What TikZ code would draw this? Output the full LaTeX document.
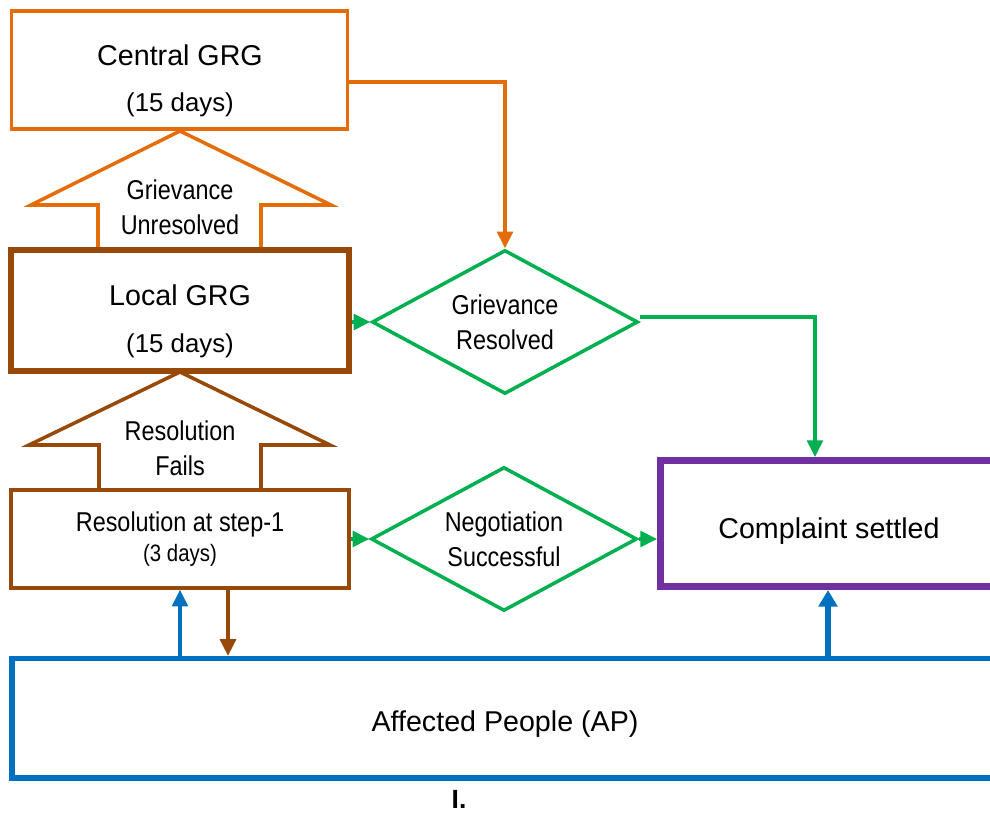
\documentclass[tikz,border=0pt]{standalone}
\usepackage{fontspec}
\setmainfont{Liberation Sans}
\newfontfamily\narrowfont{Liberation Sans}[FakeStretch=0.86]
\usetikzlibrary{shapes.geometric}
\usetikzlibrary{arrows.meta}
\definecolor{grgorange}{HTML}{E46C0A}
\definecolor{grgbrown}{HTML}{984807}
\definecolor{okgreen}{HTML}{00B050}
\definecolor{donepurple}{HTML}{7030A0}
\definecolor{apblue}{HTML}{0070C0}
\begin{document}
\begin{tikzpicture}[x=0.02cm, y=-0.02cm,
			box/.style={draw, rectangle, inner sep=0pt},
			narrow/.style={font=\narrowfont\fontsize{15.5}{19.8}\selectfont},
			big/.style={font=\fontsize{16.3}{26.5}\selectfont},
			decision/.style={draw=okgreen, line width=2pt, diamond, aspect=1.85, minimum width=5.32cm, minimum height=2.88cm, inner sep=0pt, align=center, narrow},
			tip/.style={-{Triangle[length=9.5pt,width=9pt]}},
			flow/.style={draw=okgreen, line width=1.9pt, tip}]
			\fill[white] (0,0) rectangle (990,813);
			\useasboundingbox (0,0) rectangle (990,813);
			% block arrows between the levels
			\draw[grgorange, line width=2pt] (98,248) -- (98,205) -- (31,205) -- (180,131) -- (331,205) -- (261,205) -- (261,248);
			\draw[grgbrown, line width=2pt] (99,490) -- (99,445) -- (29,445) -- (180,372) -- (330,445) -- (261,445) -- (261,490);
			\node[narrow, align=center] (unresolved) at (180,207.5) {Grievance\\Unresolved};
			\node[narrow, align=center] (fails) at (180,448) {Resolution\\Fails};
			% levels
			\node[box, draw=grgorange, line width=2.2pt, minimum width=6.72cm, minimum height=2.37cm] (cgrg) at (179.5,70) {};
			\node[big, align=center] (cgrgtext) at (180,81) {Central GRG\\{\fontsize{14.7}{26.5}\selectfont (15 days)}};
			\node[box, draw=grgbrown, line width=3.4pt, minimum width=6.76cm, minimum height=2.42cm] (lgrg) at (180,310.5) {};
			\node[big, align=center] (lgrgtext) at (180,321.5) {Local GRG\\{\fontsize{14.7}{26.5}\selectfont (15 days)}};
			\node[box, draw=grgbrown, line width=2pt, minimum width=6.76cm, minimum height=1.96cm, align=center, font=\narrowfont\fontsize{15.5}{17}\selectfont] (step1) at (180,539) {Resolution at step-1\\{\fontsize{13.5}{17}\selectfont (3 days)}};
			\node[decision] (gres) at (505,322) {Grievance\\Resolved};
			\node[decision] (nego) at (504,539) {Negotiation\\Successful};
			\node[box, draw=donepurple, line width=4pt, minimum width=6.7cm, minimum height=2.52cm] (settled) at (828,523.5) {};
			\node[big, anchor=base] (settledtext) at (829,539) {Complaint settled};
			\node[box, draw=apblue, line width=3pt, minimum width=19.72cm, minimum height=2.39cm] (ap) at (505,718.25) {};
			\node[big, anchor=base] (aptext) at (505,731) {Affected People (AP)};
			\node[font=\bfseries\fontsize{15}{17}\selectfont, anchor=base] (figlabel) at (459,808) {I.};
			% connectors
			\coordinate (obend) at (506,82);
			\coordinate (gbend) at (815,317);
			\coordinate (reply) at (228,600);
			\draw[grgorange, line width=2pt, tip] (cgrg.east |- obend) -| (gres.north);
			\draw[flow] (lgrg.east |- gres.west) -- (gres.west);
			\draw[flow] (gres.east |- gbend) -| (gbend |- settled.north);
			\draw[flow] (step1.east |- nego.west) -- (nego.west);
			\draw[flow] (nego.east) -- (nego.east -| settled.west);
			\draw[apblue, line width=2pt, tip] (ap.north -| step1.south) -- (step1.south);
			\draw[grgbrown, line width=2pt, tip] (step1.south -| reply) -- (ap.north -| reply);
			\draw[apblue, line width=3.2pt, -{Triangle[length=9.5pt,width=10.5pt]}] (ap.north -| settled.south) -- (settled.south);
	\end{tikzpicture}
\end{document}
